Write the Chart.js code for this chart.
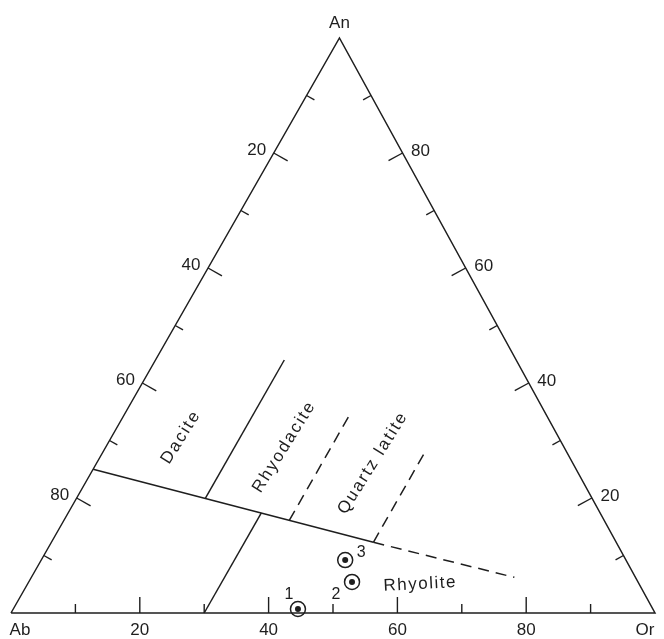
<!DOCTYPE html>
<html>
<head>
<meta charset="utf-8">
<script src="https://cdn.jsdelivr.net/npm/chart.js@4/dist/chart.umd.min.js"></script>
<style>
  html, body { margin: 0; padding: 0; background: #ffffff; }
  #wrap { width: 664px; height: 639px; position: relative; }
</style>
</head>
<body>
<div id="wrap"><canvas id="chart"></canvas></div>
<script>
// Corner names of the An–Ab–Or feldspar triangle
const vertexNames = ['Ab', 'Or', 'An'];

// Graduations along each side (percent) and the numbers printed on them
const tickSteps = [10, 20, 30, 40, 50, 60, 70, 80, 90];
const labelledSteps = [20, 40, 60, 80];
const bottomTickLabels = ['20', '40', '60', '80'];   // Ab -> Or
const leftTickLabels = ['20', '40', '60', '80'];     // An -> Ab
const rightTickLabels = ['80', '60', '40', '20'];    // An -> Or

// Field boundaries, given as An % and Or % of each end
const mainBoundaryAn = [25, 12.3];
const mainBoundaryOr = [0, 50];
const mainExtensionAn = [12.3, 6.2];
const mainExtensionOr = [50, 75];
const daciteBoundaryAn = [19.9, 44];
const daciteBoundaryOr = [20, 20];
const rhyoliteBoundaryAn = [0, 17.4];
const rhyoliteBoundaryOr = [30, 30];
const rhyodaciteBoundaryAn = [16.1, 35];
const rhyodaciteBoundaryOr = [35, 35];
const latiteBoundaryAn = [12.3, 28];
const latiteBoundaryOr = [50, 50];

// Rock-field names and where they sit (An %, Or %)
const fieldNames = ['Dacite', 'Rhyodacite', 'Quartz latite', 'Rhyolite'];
const fieldAn = [30.6, 28.9, 26.1, 5.0];
const fieldOr = [10.8, 27.7, 42.9, 61.0];

// Analysed samples (normative feldspar, An % and Or %)
const sampleIds = ['1', '2', '3'];
const sampleAn = [0.7, 5.4, 9.2];
const sampleOr = [44.2, 50.2, 47.2];

// Horizontal place of the An corner, as a fraction of the Ab–Or base
const APEX_SHIFT = 0.51;
const INK = '#1e1e1e';
const FONT = '"Liberation Sans", Arial, Helvetica, sans-serif';

function toXY(an, or) {
  return { x: or + an * APEX_SHIFT, y: an };
}
function seg(anArr, orArr) {
  return anArr.map((a, i) => toXY(a, orArr[i]));
}

const corners = {
  Ab: toXY(0, 0),
  Or: toXY(0, 100),
  An: toXY(100, 0)
};

function lineSet(data, dashed) {
  return {
    data: data,
    showLine: true,
    borderColor: INK,
    borderWidth: 1.5,
    borderDash: dashed ? [11, 7] : [],
    pointRadius: 0,
    fill: false,
    clip: false
  };
}

const samplePoints = sampleAn.map((a, i) => toXY(a, sampleOr[i]));

// Ticks, numbers and names drawn on the ternary frame
const ternaryFrame = {
  id: 'ternaryFrame',
  beforeDatasetsDraw(chart) {
    const { ctx, scales } = chart;
    const px = p => ({ x: scales.x.getPixelForValue(p.x), y: scales.y.getPixelForValue(p.y) });
    const A = px(corners.Ab), O = px(corners.Or), N = px(corners.An);
    const edges = [[A, O, N], [N, A, O], [N, O, A]];
    ctx.save();
    ctx.strokeStyle = INK;
    ctx.lineWidth = 1.4;
    edges.forEach(([p0, p1, opp]) => {
      const dx = p1.x - p0.x, dy = p1.y - p0.y;
      const len = Math.hypot(dx, dy);
      let nx = -dy / len, ny = dx / len;
      if (nx * (opp.x - p0.x) + ny * (opp.y - p0.y) < 0) { nx = -nx; ny = -ny; }
      tickSteps.forEach(v => {
        const t = v / 100;
        const sx = p0.x + dx * t, sy = p0.y + dy * t;
        const L = labelledSteps.includes(v) ? 16 : 9;
        ctx.beginPath();
        ctx.moveTo(sx, sy);
        ctx.lineTo(sx + nx * L, sy + ny * L);
        ctx.stroke();
      });
    });
    ctx.restore();
  },
  afterDatasetsDraw(chart) {
    const { ctx, scales } = chart;
    const px = p => ({ x: scales.x.getPixelForValue(p.x), y: scales.y.getPixelForValue(p.y) });
    const A = px(corners.Ab), O = px(corners.Or), N = px(corners.An);
    ctx.save();
    ctx.fillStyle = INK;
    ctx.textAlign = 'center';
    ctx.textBaseline = 'middle';
    ctx.font = '17px ' + FONT;

    // corner names
    ctx.fillText(vertexNames[0], A.x + 9, A.y + 17);
    ctx.fillText(vertexNames[1], O.x - 10, O.y + 17);
    ctx.fillText(vertexNames[2], N.x, N.y - 15);

    // side numbers
    labelledSteps.forEach((v, i) => {
      const t = v / 100;
      ctx.fillText(bottomTickLabels[i], A.x + (O.x - A.x) * t, A.y + 17);
      ctx.fillText(leftTickLabels[i], N.x + (A.x - N.x) * t - 17, N.y + (A.y - N.y) * t - 3);
      ctx.fillText(rightTickLabels[i], N.x + (O.x - N.x) * t + 18, N.y + (O.y - N.y) * t - 2);
    });

    // field names
    ctx.font = '17px ' + FONT;
    fieldNames.forEach((name, i) => {
      const p = px(toXY(fieldAn[i], fieldOr[i]));
      const flat = name === 'Rhyolite';
      if ('letterSpacing' in ctx) ctx.letterSpacing = flat ? '1.5px' : '2px';
      ctx.save();
      ctx.translate(p.x, p.y);
      ctx.rotate((flat ? -3 : -58) * Math.PI / 180);
      ctx.fillText(name, 0, 0);
      ctx.restore();
    });
    if ('letterSpacing' in ctx) ctx.letterSpacing = '0px';

    // sample numbers
    ctx.font = '16px ' + FONT;
    const offsets = [[-9, -14], [-16, 13], [16, -8]];
    sampleIds.forEach((id, i) => {
      const p = px(samplePoints[i]);
      ctx.fillText(id, p.x + offsets[i][0], p.y + offsets[i][1]);
    });
    ctx.restore();
  }
};

new Chart(document.getElementById('chart'), {
  type: 'scatter',
  data: {
    datasets: [
      lineSet([corners.Ab, corners.Or, corners.An, corners.Ab], false),
      lineSet(seg(mainBoundaryAn, mainBoundaryOr), false),
      lineSet(seg(mainExtensionAn, mainExtensionOr), true),
      lineSet(seg(daciteBoundaryAn, daciteBoundaryOr), false),
      lineSet(seg(rhyoliteBoundaryAn, rhyoliteBoundaryOr), false),
      lineSet(seg(rhyodaciteBoundaryAn, rhyodaciteBoundaryOr), true),
      lineSet(seg(latiteBoundaryAn, latiteBoundaryOr), true),
      // centre dot of each sample (listed first so it paints over its ring)
      {
        data: samplePoints,
        showLine: false,
        pointRadius: 3,
        pointBorderWidth: 0,
        pointBackgroundColor: INK,
        clip: false
      },
      // ring round each sample
      {
        data: samplePoints,
        showLine: false,
        pointRadius: 7.5,
        pointBorderWidth: 1.5,
        pointBorderColor: INK,
        pointBackgroundColor: '#ffffff',
        clip: false
      }
    ]
  },
  options: {
    responsive: true,
    maintainAspectRatio: false,
    animation: false,
    events: [],
    layout: { padding: { left: 11, right: 2, top: 38, bottom: 26 } },
    scales: {
      x: { type: 'linear', min: 0, max: 100, display: false },
      y: { type: 'linear', min: 0, max: 100, display: false }
    },
    plugins: {
      legend: { display: false },
      tooltip: { enabled: false }
    }
  },
  plugins: [ternaryFrame]
});
</script>
</body>
</html>
